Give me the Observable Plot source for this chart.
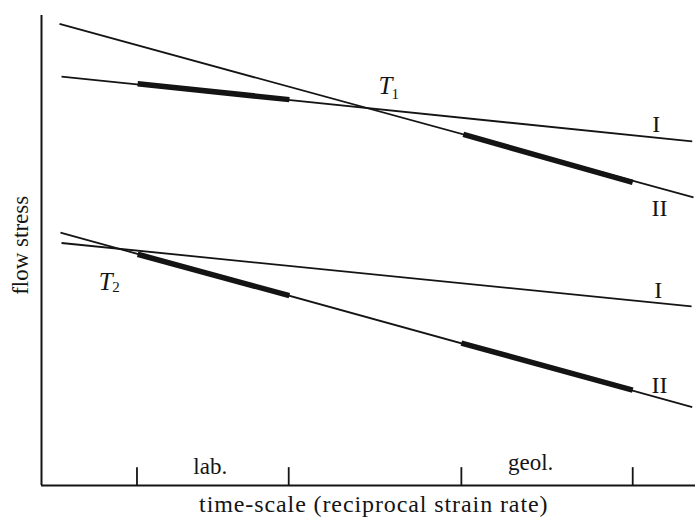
<!DOCTYPE html>
<html>
<head>
<meta charset="utf-8">
<script src="https://cdn.jsdelivr.net/npm/d3@7"></script>
<script src="https://cdn.jsdelivr.net/npm/@observablehq/plot@0.6"></script>
<style>
  html, body { margin: 0; padding: 0; background: #fff; }
  svg { font-family: "Liberation Serif", "DejaVu Serif", serif; }
</style>
</head>
<body>
<div id="chart"></div>
<script>
// Straight relations (time-scale units 0-100, flow-stress units 0-100)
const lineNames = ["upper I", "upper II", "lower I", "lower II"];
const lineStartX = [3.06, 2.75, 3.06, 2.9];
const lineStartY = [87.0, 98.2, 51.6, 53.8];
const lineEndX = [99.5, 99.7, 99.4, 99.5];
const lineEndY = [73.2, 61.3, 38.1, 16.7];

// Thick parts: observed ranges (lab. and geol.)
const segNames = ["upper I lab.", "upper II geol.", "lower II lab.", "lower II geol."];
const segStartX = [14.7, 64.5, 14.7, 64.2];
const segStartY = [85.5, 74.7, 49.2, 30.3];
const segEndX = [37.9, 90.4, 37.9, 90.4];
const segEndY = [82.1, 64.5, 40.4, 20.3];

// Ticks bounding the lab. and geol. ranges
const tickValues = [14.6, 37.8, 64.2, 90.4];

// Line labels
const numeralText = ["I", "II", "I", "II"];
const numeralX = [94.0, 94.5, 94.3, 94.5];
const numeralY = [75.3, 57.4, 39.8, 19.6];

// Intersection labels T1, T2
const tLetter = ["T", "T"];
const tSub = ["1", "2"];
const tX = [52.6, 9.8];
const tY = [83.2, 41.5];
const tSubX = [54.1, 11.4];
const tSubY = [82.3, 41.1];

// Range labels
const rangeText = ["lab.", "geol."];
const rangeX = [25.8, 74.8];
const rangeY = [2.55, 3.4];

const xTitle = "time-scale (reciprocal strain rate)";
const yTitle = "flow stress";

const lines = lineNames.map((n, i) => ({name: n, x1: lineStartX[i], y1: lineStartY[i], x2: lineEndX[i], y2: lineEndY[i]}));
const segs = segNames.map((n, i) => ({name: n, x1: segStartX[i], y1: segStartY[i], x2: segEndX[i], y2: segEndY[i]}));
const numerals = numeralText.map((t, i) => ({t, x: numeralX[i], y: numeralY[i]}));
const tLabels = tLetter.map((t, i) => ({t, s: tSub[i], x: tX[i], y: tY[i], sx: tSubX[i], sy: tSubY[i]}));
const ranges = rangeText.map((t, i) => ({t, x: rangeX[i], y: rangeY[i]}));

const ink = "#141414";

const chart = Plot.plot({
  width: 695,
  height: 519,
  marginLeft: 41,
  marginRight: 0,
  marginTop: 15,
  marginBottom: 34,
  x: {domain: [0, 100], axis: null},
  y: {domain: [0, 100], axis: null},
  marks: [
    Plot.ruleX([0], {y1: 0, y2: 100, stroke: ink, strokeWidth: 2}),
    Plot.ruleY([0], {x1: 0, x2: 100, stroke: ink, strokeWidth: 2}),
    Plot.ruleX(tickValues, {y1: 0, y2: 3.8, stroke: ink, strokeWidth: 1.8}),
    Plot.link(lines, {x1: "x1", y1: "y1", x2: "x2", y2: "y2", stroke: ink, strokeWidth: 1.8}),
    Plot.link(segs, {x1: "x1", y1: "y1", x2: "x2", y2: "y2", stroke: ink, strokeWidth: 5.5, strokeLinecap: "butt"}),
    Plot.text(numerals, {x: "x", y: "y", text: "t", fill: ink, fontSize: 24, textAnchor: "middle", lineAnchor: "bottom"}),
    Plot.text(tLabels, {x: "x", y: "y", text: "t", fill: ink, fontSize: 25, fontStyle: "italic", textAnchor: "middle", lineAnchor: "bottom"}),
    Plot.text(tLabels, {x: "sx", y: "sy", text: "s", fill: ink, fontSize: 15, textAnchor: "middle", lineAnchor: "bottom"}),
    Plot.text(ranges, {x: "x", y: "y", text: "t", fill: ink, fontSize: 23, textAnchor: "middle", lineAnchor: "bottom"}),
    Plot.text([xTitle], {x: 50.8, y: -5.7, text: d => d, fill: ink, fontSize: 24, textAnchor: "middle", lineAnchor: "bottom", className: "xtitle"}),
    Plot.text([yTitle], {x: -2.14, y: 51.1, text: d => d, fill: ink, fontSize: 23, rotate: -90, textAnchor: "middle", lineAnchor: "bottom"})
  ]
});
document.getElementById("chart").appendChild(chart);
// widen the x title's letter spacing to match the reference typeface
d3.select(chart).selectAll("text").filter(function () { return this.textContent === xTitle; })
  .attr("letter-spacing", "0.9px");
</script>
</body>
</html>
